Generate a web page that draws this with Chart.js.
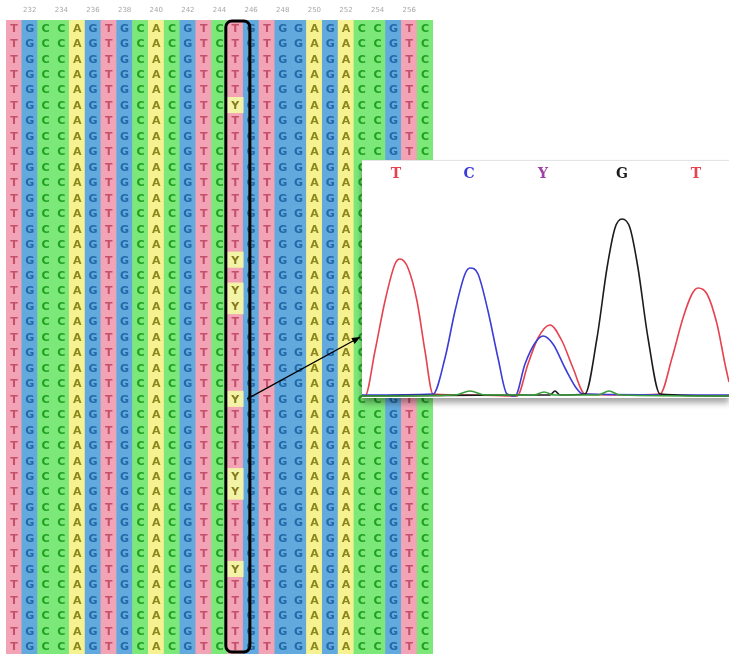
<!DOCTYPE html>
<html>
<head>
<meta charset="utf-8">
<script src="https://cdn.jsdelivr.net/npm/chart.js@4.4.1/dist/chart.umd.min.js"></script>
<style>
    html, body { margin: 0; padding: 0; background: #fff; overflow: hidden; }
    #wrap { position: relative; width: 729px; height: 654px; }
    #alignBox { position: absolute; left: 0; top: 0; width: 440px; height: 654px; }
    #traceBox {
        position: absolute; left: 362px; top: 160px; width: 367px; height: 237px;
        background: #fff; border-top: 1px solid #e4e4e4;
        box-shadow: 0 5px 6px rgba(0, 0, 0, 0.35);
    }
</style>
</head>
<body>
<div id="wrap">
    <div id="alignBox"><canvas id="alignChart"></canvas></div>
    <div id="traceBox"><canvas id="traceChart"></canvas></div>
</div>
<script>
// Alignment data
const positions = [231, 232, 233, 234, 235, 236, 237, 238, 239, 240, 241, 242, 243, 244,
    245, 246, 247, 248, 249, 250, 251, 252, 253, 254, 255, 256, 257];
const bases = ['T', 'G', 'C', 'C', 'A', 'G', 'T', 'G', 'C', 'A', 'C', 'G', 'T', 'C',
    'T', 'G', 'T', 'G', 'G', 'A', 'G', 'A', 'C', 'C', 'G', 'T', 'C'];
const rowCount = 41;
const snpPosition = 245;
const heteroRows = [5, 15, 17, 18, 24, 29, 30, 35];
const arrowRow = 24;

// Chromatogram data (x along trace, y signal)
const peakCalls = ['T', 'C', 'Y', 'G', 'T'];
const peakCallX = [34, 107, 181, 260, 334];
const traceT = [[0, 1], [3, 0], [13, 45], [23, 95], [33, 132], [38, 137], [46, 128], [55, 95], [63, 45], [71, 2],
    [110, 1], [155, 0], [166, 32], [176, 58], [188, 71], [200, 55], [211, 28], [223, 2], [260, 1], [298, 2],
    [310, 38], [321, 78], [330, 102], [336, 108], [345, 102], [355, 72], [363, 32], [367, 14]];
const traceC = [[0, 1], [71, 2], [83, 38], [93, 85], [103, 122], [108, 128], [116, 122], [126, 85], [136, 38],
    [145, 2], [153, 0], [163, 32], [173, 53], [181, 60], [191, 52], [203, 28], [215, 7], [221, 2], [367, 1]];
const traceG = [[0, 0], [150, 1], [188, 1], [193, 5], [198, 1], [223, 2], [235, 58], [245, 128], [253, 168],
    [260, 177], [268, 168], [276, 128], [286, 58], [298, 2], [367, 0]];
const traceA = [[0, 0], [93, 1], [108, 5], [123, 1], [172, 1], [182, 4], [192, 1], [236, 1], [247, 5], [258, 1], [367, 0]];

// Colours
const cellColors = { T: '#f3a3b6', G: '#62a9dd', C: '#7ce87a', A: '#f6f292', Y: '#f3f3a8' };
const letterColors = { T: '#c4506b', G: '#2269a8', C: '#20a020', A: '#8c861e', Y: '#857a1e' };
const traceColors = { T: '#e4434f', C: '#3c3cd6', G: '#1c1c1c', A: '#3a9e3a', Y: '#a040a4' };

const snpIndex = positions.indexOf(snpPosition);

// letters on every cell, drawn after the yellow cells
const letterPlugin = {
    id: 'letters',
    afterDatasetDraw(chart, args) {
        if (args.index !== 1) return;
        const ctx = chart.ctx;
        const xs = chart.scales.x, ys = chart.scales.y;
        ctx.save();
        ctx.font = 'bold 11px "DejaVu Sans", sans-serif';
        ctx.textAlign = 'center';
        ctx.textBaseline = 'middle';
        for (let r = 0; r < rowCount; r++) {
            for (let i = 0; i < bases.length; i++) {
                let b = bases[i];
                if (i === snpIndex && heteroRows.includes(r)) b = 'Y';
                ctx.fillStyle = letterColors[b];
                ctx.fillText(b, xs.getPixelForValue(i), ys.getPixelForValue(r) + 1);
            }
        }
        ctx.restore();
    },
    afterDatasetsDraw(chart) {
        const ctx = chart.ctx;
        const xs = chart.scales.x, ys = chart.scales.y;
        const colW = xs.getPixelForValue(1) - xs.getPixelForValue(0);
        const cx = xs.getPixelForValue(snpIndex);
        ctx.save();
        // highlight box round the SNP column
        const left = cx - 0.6 * colW, right = cx + 0.92 * colW;
        const top = chart.chartArea.top + 1, bottom = chart.chartArea.bottom - 2;
        ctx.strokeStyle = '#000';
        ctx.lineWidth = 3;
        ctx.beginPath();
        ctx.roundRect(left, top, right - left, bottom - top, 6);
        ctx.stroke();
        // arrow from the marked cell to the trace
        const x0 = cx + 0.75 * colW, y0 = ys.getPixelForValue(arrowRow);
        const x1 = xs.getPixelForValue(21.9), y1 = ys.getPixelForValue(20.0);
        ctx.lineWidth = 1.3;
        ctx.beginPath();
        ctx.moveTo(x0, y0);
        ctx.lineTo(x1, y1);
        ctx.stroke();
        const ang = Math.atan2(y1 - y0, x1 - x0);
        ctx.beginPath();
        ctx.moveTo(x1, y1);
        ctx.lineTo(x1 - 9 * Math.cos(ang - 0.4), y1 - 9 * Math.sin(ang - 0.4));
        ctx.lineTo(x1 - 9 * Math.cos(ang + 0.4), y1 - 9 * Math.sin(ang + 0.4));
        ctx.closePath();
        ctx.fill();
        ctx.restore();
    }
};

function initAlignmentChart() {
    const ctx = document.getElementById('alignChart').getContext('2d');
    new Chart(ctx, {
        type: 'bar',
        data: {
            labels: positions.map(String),
            datasets: [
                {
                    label: 'bases',
                    data: bases.map(() => [-0.5, rowCount - 0.5]),
                    backgroundColor: bases.map(b => cellColors[b]),
                    borderWidth: 0,
                    barPercentage: 1,
                    categoryPercentage: 1,
                    grouped: false,
                    order: 2
                },
                {
                    label: 'heterozygous',
                    data: heteroRows.map(r => ({ x: String(snpPosition), y: [r - 0.5, r + 0.5] })),
                    backgroundColor: cellColors.Y,
                    borderWidth: 0,
                    barPercentage: 1,
                    categoryPercentage: 1,
                    grouped: false,
                    order: 1
                }
            ]
        },
        options: {
            responsive: true,
            maintainAspectRatio: false,
            animation: false,
            layout: { padding: { left: 6, right: 7, top: 0, bottom: 0 } },
            plugins: { legend: { display: false }, tooltip: { enabled: false } },
            scales: {
                x: {
                    position: 'top',
                    grid: { display: false, drawTicks: false },
                    border: { display: false },
                    afterFit: s => { s.height = 20; },
                    ticks: {
                        autoSkip: false,
                        maxRotation: 0,
                        padding: 6,
                        color: '#a8a8a8',
                        font: { size: 7, family: '"DejaVu Sans", sans-serif' },
                        callback: function(value) {
                            const p = positions[value];
                            return p % 2 === 0 ? String(p) : '';
                        }
                    }
                },
                y: {
                    display: false,
                    reverse: true,
                    min: -0.5,
                    max: rowCount - 0.5
                }
            }
        },
        plugins: [letterPlugin]
    });
}

// base calls above the peaks
const callPlugin = {
    id: 'calls',
    afterDatasetsDraw(chart) {
        const ctx = chart.ctx;
        const xs = chart.scales.x;
        ctx.save();
        ctx.font = 'bold 14px "DejaVu Serif", "Liberation Serif", serif';
        ctx.textAlign = 'center';
        ctx.textBaseline = 'middle';
        peakCalls.forEach((c, i) => {
            ctx.fillStyle = traceColors[c];
            ctx.fillText(c, xs.getPixelForValue(peakCallX[i]), 13);
        });
        ctx.restore();
    }
};

function traceDataset(label, points, color) {
    return {
        label: label,
        data: points.map(p => ({ x: p[0], y: p[1] })),
        borderColor: color,
        borderWidth: 1.6,
        pointRadius: 0,
        fill: false,
        cubicInterpolationMode: 'monotone'
    };
}

function initTraceChart() {
    const ctx = document.getElementById('traceChart').getContext('2d');
    new Chart(ctx, {
        type: 'line',
        data: {
            datasets: [
                traceDataset('A', traceA, traceColors.A),
                traceDataset('G', traceG, traceColors.G),
                traceDataset('C', traceC, traceColors.C),
                traceDataset('T', traceT, traceColors.T)
            ]
        },
        options: {
            responsive: true,
            maintainAspectRatio: false,
            animation: false,
            layout: { padding: 0 },
            plugins: { legend: { display: false }, tooltip: { enabled: false } },
            scales: {
                x: { type: 'linear', display: false, min: 0, max: 367 },
                y: { display: false, min: -2, max: 235 }
            }
        },
        plugins: [callPlugin]
    });
}

initAlignmentChart();
initTraceChart();
</script>
</body>
</html>
